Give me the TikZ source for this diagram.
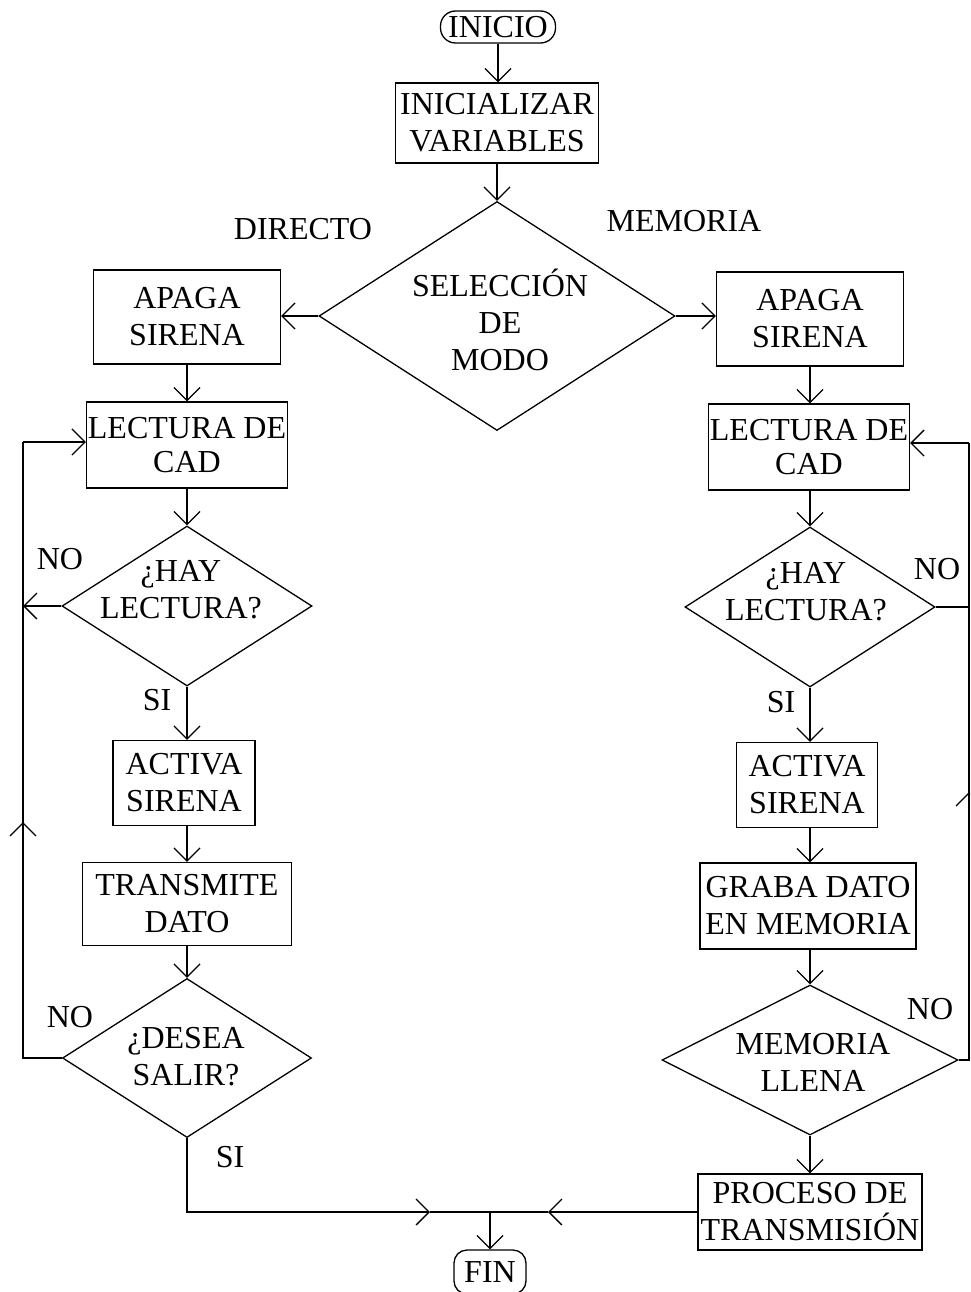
\documentclass[tikz,border=0pt]{standalone}
\usepackage{fontspec}
\setmainfont{Liberation Serif}
\usetikzlibrary{shapes.geometric,arrows.meta}
\tikzset{
  every picture/.style={x=1pt,y=-1pt},
  base/.style={draw=black,line width=1.3pt,inner sep=0pt,align=center,font=\fontsize{32}{37}\selectfont},
  box/.style={base,rectangle},
  term/.style={base,rectangle,rounded corners=15pt},
  dia/.style={base,diamond},
  txt/.style={inner sep=0pt,align=center,font=\fontsize{32}{37}\selectfont},
  lec/.style={font=\fontsize{32}{34}\selectfont},
  conn/.style={line width=1.3pt},
  arr/.style={conn,-{Straight Barb[length=13pt,width=26pt,line width=1.3pt]}},
}
\begin{document}
\begin{tikzpicture}
\useasboundingbox (0,0) rectangle (970,1292);
\clip (0,0) rectangle (970,1292);
% top
\node[term,minimum width=115,minimum height=32] (ini) at (498,27) {INICIO};
\node[box,minimum width=203,minimum height=80] (var) at (497,123) {INICIALIZAR\\VARIABLES};
\node[dia,minimum width=356,minimum height=229] (sel) at (497,316) {};
\node[txt] (selt) at (500,320) {SELECCIÓN\\DE\\MODO};
\node[txt] (ldir) at (303,229) {DIRECTO};
\node[txt] (lmem) at (684,221) {MEMORIA};
% left column
\node[box,minimum width=187,minimum height=94] (apL) at (187,317) {APAGA\\SIRENA};
\node[box,lec,minimum width=201,minimum height=86] (lecL) at (187,445) {LECTURA DE\\CAD};
\node[dia,minimum width=250,minimum height=160] (hayL) at (187,606) {};
\node[txt] (hayLt) at (181,590) {¿HAY\\LECTURA?};
\node[box,minimum width=142,minimum height=85] (actL) at (184,783) {ACTIVA\\SIRENA};
\node[box,minimum width=209,minimum height=83] (tra) at (187,904) {TRANSMITE\\DATO};
\node[dia,minimum width=249,minimum height=159] (des) at (187,1058) {};
\node[txt] (dest) at (186,1057) {¿DESEA\\SALIR?};
% right column
\node[box,minimum width=187,minimum height=94] (apR) at (810,319) {APAGA\\SIRENA};
\node[box,lec,minimum width=201,minimum height=86] (lecR) at (809,447) {LECTURA DE\\CAD};
\node[dia,minimum width=250,minimum height=160] (hayR) at (810,607) {};
\node[txt] (hayRt) at (806,592) {¿HAY\\LECTURA?};
\node[box,minimum width=141,minimum height=85] (actR) at (807,785) {ACTIVA\\SIRENA};
\node[box,minimum width=216,minimum height=86] (gra) at (808,906) {GRABA DATO\\EN MEMORIA};
\node[dia,minimum width=296,minimum height=150] (mem) at (810,1060) {};
\node[txt] (memt) at (813,1062) {MEMORIA\\LLENA};
\node[box,minimum width=224,minimum height=76] (pro) at (810,1212) {PROCESO DE\\TRANSMISIÓN};
\node[term,rounded corners=13pt,minimum width=72,minimum height=44] (fin) at (490,1272) {FIN};
% branch labels
\node[txt] (no1) at (60,559) {NO};
\node[txt] (si1) at (157,700) {SI};
\node[txt] (no2) at (70,1017) {NO};
\node[txt] (si2) at (230,1157) {SI};
\node[txt] (no3) at (937,569) {NO};
\node[txt] (si3) at (781,702) {SI};
\node[txt] (no4) at (930,1009) {NO};
% loop coordinates
\coordinate (lb) at (23,1058);
\coordinate (lt) at (23,442);
\coordinate (lm) at (23,822);
\coordinate (rb) at (969,1060);
\coordinate (rt) at (969,443);
\coordinate (rm) at (969,792);
\coordinate (j) at (490,1212);
\coordinate (ja) at (430,1212);
\coordinate (jb) at (548,1212);
% main flow
\draw[arr] (ini.south) -- (ini.south |- var.north);
\draw[arr] (var.south) -- (var.south |- sel.north);
\draw[arr] (sel.west) -- (apL.east |- sel.west);
\draw[arr] (sel.east) -- (apR.west |- sel.east);
\draw[arr] (apL.south) -- (lecL.north);
\draw[arr] (lecL.south) -- (hayL.north);
\draw[arr] (hayL.south) -- (hayL.south |- actL.north);
\draw[arr] (hayL.south |- actL.south) -- (hayL.south |- tra.north);
\draw[arr] (tra.south) -- (des.north);
\draw[arr] (apR.south) -- (apR.south |- lecR.north);
\draw[arr] (apR.south |- lecR.south) -- (hayR.north);
\draw[arr] (hayR.south) -- (hayR.south |- actR.north);
\draw[arr] (hayR.south |- actR.south) -- (hayR.south |- gra.north);
\draw[arr] (hayR.south |- gra.south) -- (mem.north);
\draw[arr] (mem.south) -- (pro.north);
% left loop
\draw[conn] (des.west) -- (lb) -- (lt);
\draw[arr] (lb) -- (lm);
\draw[arr] (lt) -- (lt -| lecL.west);
\draw[arr] (hayL.west) -- (hayL.west -| lt);
% right loop
\draw[conn] (mem.east) -- (rb) -- (rt);
\draw[arr] (rb) -- (rm);
\draw[arr] (rt) -- (rt -| lecR.east);
\draw[conn] (hayR.east) -- (hayR.east -| rt);
% bottom
\draw[arr] (des.south) |- (ja);
\draw[conn] (ja) -- (j);
\draw[arr] (pro.west) -- (jb);
\draw[conn] (jb) -- (j);
\draw[arr] (j) -- (fin.north);
\end{tikzpicture}
\end{document}
